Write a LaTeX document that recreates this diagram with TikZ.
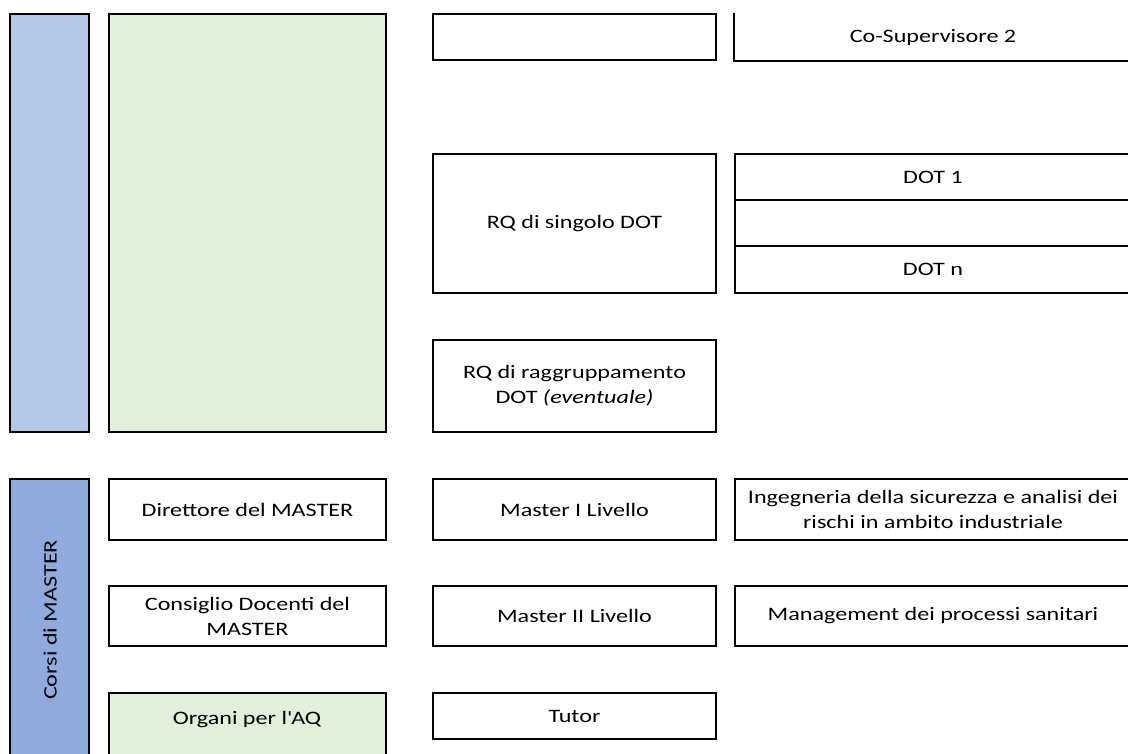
\documentclass[tikz,border=0pt]{standalone}
\usepackage{fontspec}
\setmainfont{Carlito}[FakeStretch=1.27]
\definecolor{bluelight}{HTML}{B4C7E7}
\definecolor{bluedark}{HTML}{8FAADC}
\definecolor{greenlight}{HTML}{E2EFDA}
\newcommand\bx[7]{\node[box,#6,minimum width={(#4-#2)*1pt},minimum height={(#5-#3)*1pt}] (#1) at ({(#2+#4)/2},{(#3+#5)/2}) {#7};}
\tikzset{
  box/.style={draw=black,line width=2pt,fill=white,inner sep=1pt,align=center,font=\fontsize{19}{25}\selectfont},
  lbl/.style={inner sep=0pt,align=center,font=\fontsize{19}{25}\selectfont},
  edge/.style={draw=black,line width=2pt,line join=miter}
}
\begin{document}
\begin{tikzpicture}[x=1pt,y=-1pt]
\useasboundingbox (0,0) rectangle (1128,754);
\clip (0,0) rectangle (1128,754);
% upper section
\bx{bluetop}{10}{14}{89}{432}{fill=bluelight}{}
\bx{greentop}{109}{14}{386}{432}{fill=greenlight}{}
\bx{topmid}{433}{14}{716}{60}{}{}
\bx{cs}{735}{14}{1131}{60}{draw=none}{Co-Supervisore 2}
\draw[edge] (cs.north west) -- (cs.south west) -- (cs.south east);
\bx{rqs}{433}{154}{716}{293}{}{RQ di singolo DOT}
\bx{dot1}{735}{154}{1131}{200}{}{DOT 1}
\bx{dotm}{735}{200}{1131}{246}{}{}
\bx{dotn}{735}{246}{1131}{293}{}{DOT n}
\bx{rqr}{433}{340}{716}{432}{}{RQ di raggruppamento\\DOT \textit{(eventuale)}}
% lower section
\bx{bluebot}{10}{479}{89}{780}{fill=bluedark}{}
\node[lbl,rotate=90] (corsi) at (50,620) {Corsi di MASTER};
\bx{dir}{109}{479}{386}{540}{}{Direttore del MASTER}
\bx{cons}{109}{586}{386}{646}{}{Consiglio Docenti del\\MASTER}
\bx{org}{109}{693}{386}{780}{fill=greenlight}{}
\node[lbl] (orgtext) at (247,720) {Organi per l\textquotesingle AQ};
\bx{m1}{433}{479}{716}{540}{}{Master I Livello}
\bx{m2}{433}{586}{716}{646}{}{Master II Livello}
\bx{tutor}{433}{693}{716}{739}{}{Tutor}
\bx{ing}{735}{479}{1131}{540}{}{Ingegneria della sicurezza e analisi dei\\rischi in ambito industriale}
\bx{mgmt}{735}{586}{1131}{646}{}{Management dei processi sanitari}
\end{tikzpicture}
\end{document}
